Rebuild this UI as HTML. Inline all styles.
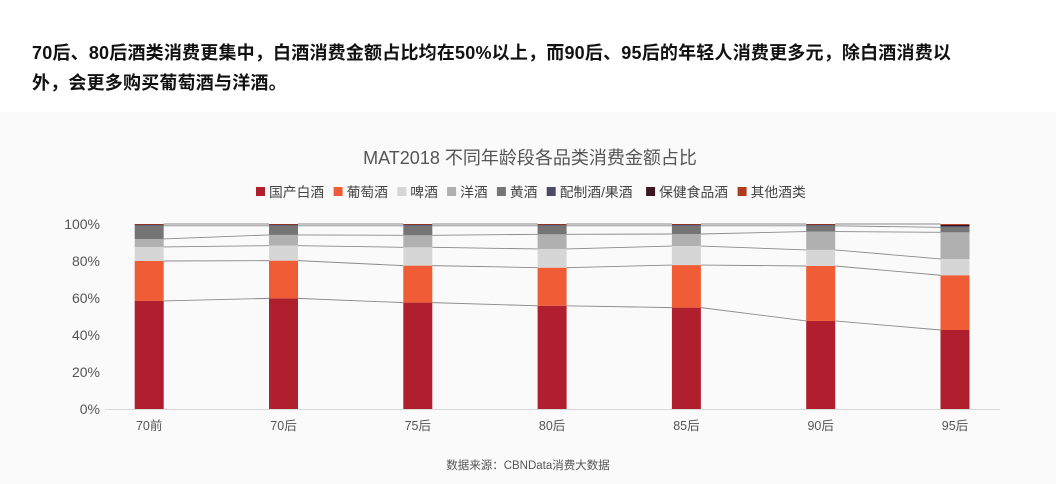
<!DOCTYPE html>
<html><head><meta charset="utf-8">
<style>
body{margin:0;width:1056px;height:484px;background:#fff;overflow:hidden;font-family:"Liberation Sans","Noto Sans CJK SC",sans-serif;}
#hdr{position:absolute;left:32px;top:38px;width:1020px;font-size:18px;line-height:30px;color:#111;font-weight:bold;letter-spacing:0.2px;white-space:nowrap;}
#chartbg{position:absolute;left:0;top:112px;width:1056px;height:372px;background:#fafafa;}
svg{position:absolute;left:0;top:0;}
</style></head><body>
<div id="hdr">70后、80后酒类消费更集中，白酒消费金额占比均在50%以上，而90后、95后的年轻人消费更多元，除白酒消费以<br>外，会更多购买葡萄酒与洋酒。</div>
<div id="chartbg"></div>
<svg id="chart" width="1056" height="484"></svg>
<script>
const categories=["70前","70后","75后","80后","85后","90后","95后"];
const seriesNames=["国产白酒","葡萄酒","啤酒","洋酒","黄酒","配制酒/果酒","保健食品酒","其他酒类"];
const seriesColors=["#b01f2e","#f05c36","#d6d6d6","#b0b0b0","#757575","#4c4b66","#3e1520","#b03a1e"];
const baijiu=[58.4,59.8,57.5,55.8,54.8,47.6,42.7];
const wine=[21.6,20.4,20.0,20.6,23.0,29.7,29.6];
const beer=[7.6,8.1,9.9,10.1,10.3,8.7,8.8];
const yangjiu=[4.3,5.8,6.5,7.9,6.5,9.9,14.4];
const huangjiu=[7.1,4.9,5.1,4.6,4.4,3.1,2.7];
const peizhi=[0.4,0.4,0.4,0.4,0.4,0.4,0.7];
const baojian=[0.3,0.3,0.3,0.3,0.3,0.3,0.6];
const other=[0.3,0.3,0.3,0.3,0.3,0.3,0.5];
const yTicks=[0,20,40,60,80,100];
const series=[baijiu,wine,beer,yangjiu,huangjiu,peizhi,baojian,other];

const svg=document.getElementById('chart');
const NS='http://www.w3.org/2000/svg';
const y0=409,y1=224,x0=149.2,step=134.3,bw=29;
const yScale=v=>y0-(y0-y1)*v/100;
const xScale=i=>x0+i*step;
function mk(t,a){const e=document.createElementNS(NS,t);for(const k in a)e.setAttribute(k,a[k]);svg.appendChild(e);return e;}

let t=mk('text',{x:530,y:164,'text-anchor':'middle','font-size':18,fill:'#555'});

t.textContent='MAT2018  不同年龄段各品类消费金额占比';

let lx=256;
seriesNames.forEach((n,i)=>{
  const r=mk('rect',{x:lx,y:187,width:9,height:9,fill:seriesColors[i]});
  
  const tx=mk('text',{x:lx+13,y:197,'font-size':13.8,fill:'#444'});
  
  tx.textContent=n;
  lx+=13+n.length*13.9+(n.includes('/')?-6:0)+9;
});

yTicks.forEach(v=>{
  const tx=mk('text',{x:100,y:yScale(v)+5,'text-anchor':'end','font-size':14,fill:'#555'});
  
  tx.textContent=v+'%';
});
const ax=mk('line',{x1:105,x2:1000,y1:y0+0.5,y2:y0+0.5,stroke:'#d8d8d8','stroke-width':1});


const cum=categories.map((c,i)=>{let s=0;return series.map(a=>(s+=a[i]));});

for(let i=0;i<categories.length-1;i++){
  for(let k=0;k<series.length;k++){
    if(k>=5&&k<7)continue;
    const l=mk('line',{x1:xScale(i)+bw/2,y1:yScale(cum[i][k]),x2:xScale(i+1)-bw/2,y2:yScale(cum[i+1][k]),stroke:'#8a8a8a','stroke-width':0.9});
    
  }
}
categories.forEach((c,i)=>{
  let base=0;
  series.forEach((a,k)=>{
    const top=base+a[i];
    const r=mk('rect',{x:xScale(i)-bw/2,y:yScale(top),width:bw,height:yScale(base)-yScale(top),fill:seriesColors[k]});
    
    base=top;
  });
  const tx=mk('text',{x:xScale(i),y:430,'text-anchor':'middle','font-size':12.5,fill:'#555'});
  
  tx.textContent=c;
});
t=mk('text',{x:528,y:469,'text-anchor':'middle','font-size':11.5,fill:'#555'});

t.textContent='数据来源：CBNData消费大数据';
</script>
</body></html>
